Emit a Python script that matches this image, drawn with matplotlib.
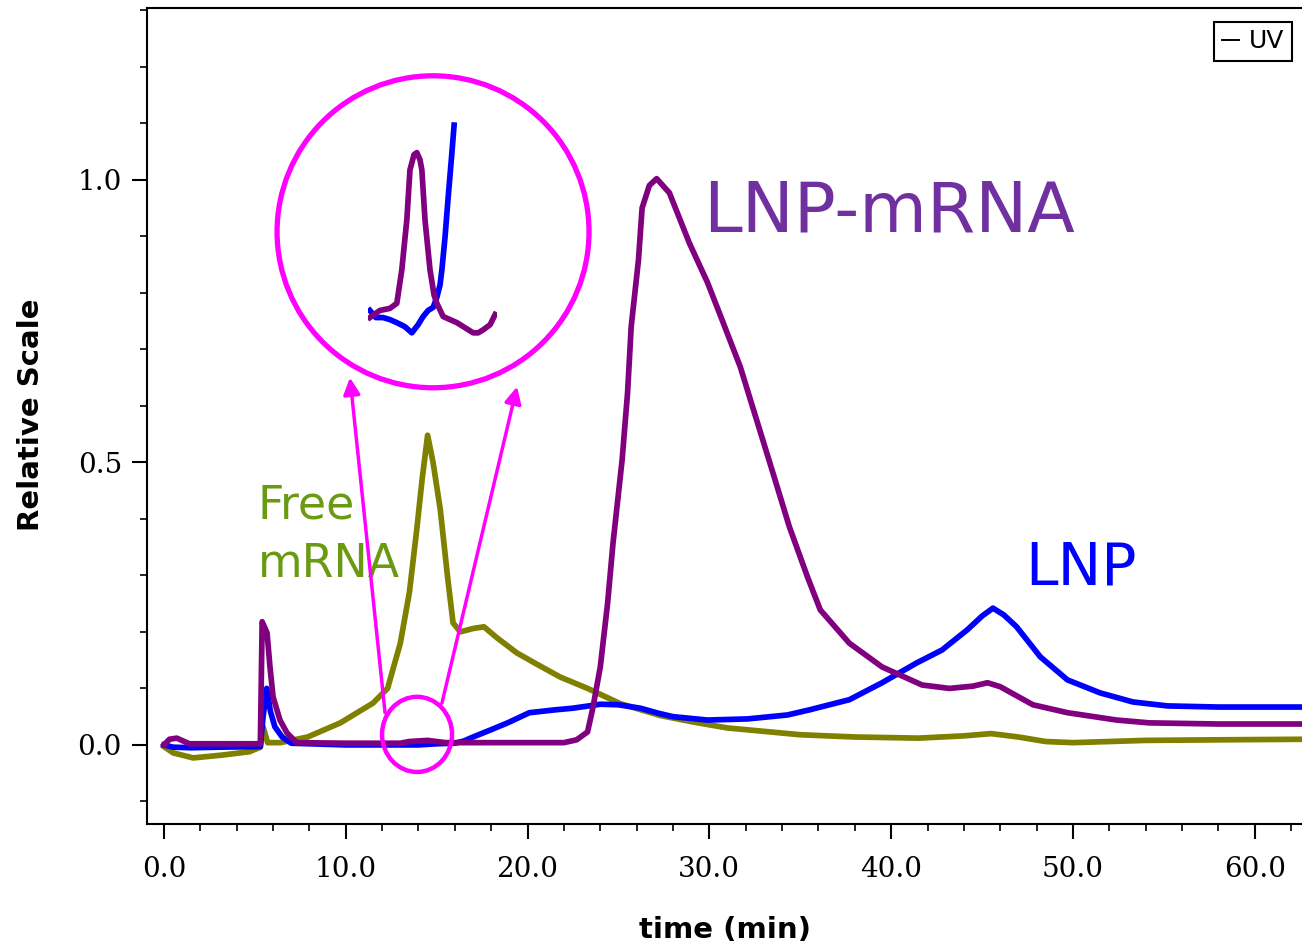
import matplotlib
matplotlib.use("Agg")
import matplotlib.pyplot as plt
from matplotlib.patches import Ellipse
from matplotlib.lines import Line2D
from matplotlib.ticker import MultipleLocator, FormatStrFormatter

# Free mRNA trace (olive)
free_t = [0.0, 0.5, 1.6, 3.2, 4.7, 5.3, 5.45, 5.7, 6.4, 7.9, 9.7, 11.5, 12.3,
          13.0, 13.5, 13.9, 14.2, 14.5, 14.8, 15.2, 15.6, 15.9, 16.3, 17.0,
          17.6, 18.3, 19.4, 20.5, 21.8, 23.3, 25.1, 27.3, 29.2, 31.0, 33.0,
          35.0, 38.0, 41.5, 44.0, 45.5, 47.0, 48.5, 50.0, 54.0, 58.0, 62.7]
free_y = [-0.003, -0.014, -0.023, -0.018, -0.012, -0.004, 0.032, 0.004, 0.004,
          0.014, 0.039, 0.074, 0.10, 0.18, 0.27, 0.38, 0.47, 0.548, 0.50,
          0.416, 0.297, 0.216, 0.20, 0.206, 0.209, 0.19, 0.163, 0.143, 0.12,
          0.10, 0.073, 0.052, 0.04, 0.03, 0.024, 0.018, 0.014, 0.012, 0.016,
          0.02, 0.014, 0.006, 0.004, 0.008, 0.009, 0.01]

# LNP trace (blue)
lnp_t = [0.0, 0.5, 1.5, 3.0, 5.3, 5.45, 5.65, 5.85, 6.1, 6.5, 7.0, 10.0, 14.0,
         15.0, 16.0, 16.5, 17.0, 18.0, 18.9, 20.1, 21.5, 22.5, 24.0, 25.0,
         26.2, 27.2, 28.0, 29.9, 32.1, 34.3, 35.5, 37.7, 39.5, 41.4, 42.8,
         44.2, 45.0, 45.6, 46.2, 46.9, 48.2, 49.7, 51.5, 53.3, 55.2, 58.0, 62.7]
lnp_y = [0.0, -0.004, -0.005, -0.004, -0.003, 0.05, 0.10, 0.06, 0.032, 0.014,
         0.003, 0.0, 0.0, 0.002, 0.003, 0.007, 0.014, 0.027, 0.039, 0.057,
         0.062, 0.065, 0.072, 0.071, 0.065, 0.056, 0.05, 0.044, 0.046, 0.053,
         0.062, 0.08, 0.11, 0.145, 0.168, 0.204, 0.228, 0.242, 0.23, 0.209,
         0.156, 0.115, 0.092, 0.076, 0.069, 0.067, 0.067]

# LNP-mRNA trace (purple)
lnpm_t = [0.0, 0.3, 0.7, 1.4, 2.5, 5.3, 5.4, 5.67, 5.83, 6.0, 6.38, 6.77, 7.3,
          10.0, 13.0, 13.5, 14.5, 15.5, 22.0, 22.7, 23.3, 23.6, 24.0, 24.4,
          24.7, 25.2, 25.5, 25.7, 26.1, 26.3, 26.7, 27.1, 27.8, 28.9, 29.9,
          30.7, 31.7, 32.6, 33.5, 34.4, 35.4, 36.1, 37.7, 39.5, 41.7, 43.2,
          44.5, 45.3, 46.0, 47.8, 49.7, 52.4, 54.2, 58.0, 62.7]
lnpm_y = [0.0, 0.01, 0.012, 0.002, 0.002, 0.002, 0.218, 0.198, 0.138, 0.085,
          0.044, 0.021, 0.004, 0.003, 0.003, 0.006, 0.008, 0.004, 0.004, 0.009,
          0.023, 0.067, 0.138, 0.25, 0.357, 0.504, 0.623, 0.74, 0.858, 0.95,
          0.99, 1.002, 0.977, 0.888, 0.818, 0.752, 0.669, 0.575, 0.481, 0.386,
          0.297, 0.239, 0.18, 0.138, 0.106, 0.10, 0.104, 0.11, 0.103, 0.071,
          0.057, 0.044, 0.039, 0.037, 0.037]

# zoomed view of the small peak near 14 min (arbitrary units)
zoom_t_lnpm = [12.0, 12.32, 12.64, 12.86, 13.02, 13.18, 13.28, 13.41, 13.5,
               13.6, 13.66, 13.76, 13.92, 14.05, 14.14, 14.34, 14.56, 14.78,
               15.04, 15.3, 15.46, 15.62, 15.84, 16.0]
zoom_y_lnpm = [2.4, 3.1, 3.3, 3.8, 7.1, 12.0, 16.9, 18.4, 18.6, 17.9, 16.9,
               12.0, 7.1, 4.6, 3.8, 2.5, 2.2, 1.9, 1.4, 0.9, 0.9, 1.2, 1.7, 2.7]
zoom_t_lnp = [12.0, 12.19, 12.42, 12.64, 12.86, 13.12, 13.34, 13.54, 13.7,
              13.86, 14.02, 14.14, 14.24, 14.3, 14.4, 14.5, 14.56, 14.62, 14.69]
zoom_y_lnp = [3.1, 2.4, 2.4, 2.2, 1.9, 1.5, 0.9, 1.7, 2.5, 3.1, 3.4, 4.4, 5.6,
              7.1, 10.3, 14.2, 16.4, 18.6, 21.3]

x_ticks = [0, 10, 20, 30, 40, 50, 60]
y_ticks = [0.0, 0.5, 1.0]

PURPLE = "#800080"
BLUE = "#0000FF"
OLIVE = "#808000"
MAGENTA = "#FF00FF"

fig = plt.figure(figsize=(13.02, 9.5), dpi=100)
ax = fig.add_axes([0.1129, 0.1326, 0.8871, 0.859])

lw = 4.1
ax.plot(free_t, free_y, color=OLIVE, lw=lw, zorder=3)
ax.plot(lnp_t, lnp_y, color=BLUE, lw=lw, zorder=3)
ax.plot(lnpm_t, lnpm_y, color=PURPLE, lw=lw, zorder=4)

ax.set_xlim(-0.935, 62.6)
ax.set_ylim(-0.14, 1.304)
ax.set_xticks(x_ticks)
ax.set_yticks(y_ticks)
ax.xaxis.set_minor_locator(MultipleLocator(2))
ax.yaxis.set_minor_locator(MultipleLocator(0.1))
ax.xaxis.set_major_formatter(FormatStrFormatter("%.1f"))
ax.yaxis.set_major_formatter(FormatStrFormatter("%.1f"))
ax.tick_params(which="major", direction="out", length=11, width=1.5,
               labelsize=20)
ax.tick_params(which="minor", direction="out", length=5, width=1.2)
ax.tick_params(axis="x", which="major", pad=12)
ax.tick_params(axis="y", which="major", pad=7)
for lab in ax.get_xticklabels() + ax.get_yticklabels():
    lab.set_family("DejaVu Serif")
for side in ("left", "bottom", "top"):
    ax.spines[side].set_linewidth(1.5)
ax.spines["right"].set_visible(False)

ax.set_xlabel("time (min)", fontsize=21, fontweight="bold")
ax.set_ylabel("Relative Scale", fontsize=21, fontweight="bold")
ax.xaxis.set_label_coords(0.5004, -0.113)
ax.yaxis.set_label_coords(-0.088, 0.501)

leg = ax.legend([Line2D([], [], color="black", lw=1.4)], ["UV"],
                loc="upper right", bbox_to_anchor=(1292 / 1302, 1 - 22 / 950),
                bbox_transform=fig.transFigure, fontsize=18, handlelength=0.7,
                handletextpad=0.4, borderpad=0.3, fancybox=False,
                framealpha=1, borderaxespad=0)
leg.get_frame().set_edgecolor("black")
leg.get_frame().set_linewidth(1.5)
leg._legend_box.sep = 0
for t in leg.get_texts():
    t.set_x(0)

# labels
ax.text(29.65, 0.908, "LNP-mRNA", color="#7030A0", fontsize=50,
        ha="left", va="baseline")
ax.text(47.4, 0.283, "LNP", color=BLUE, fontsize=42, ha="left", va="baseline")
ax.text(5.17, 0.40, "Free", color="#6A9A12", fontsize=33, ha="left",
        va="baseline")
ax.text(5.17, 0.297, "mRNA", color="#6A9A12", fontsize=33, ha="left",
        va="baseline")

# magnifier circles and arrows
ax.add_patch(Ellipse((13.92, 0.0186), 3.85, 0.133, fill=False,
                     edgecolor=MAGENTA, lw=3.2, zorder=6))
ax.add_patch(Ellipse((14.8, 0.908), 17.16, 0.552, fill=False,
                     edgecolor=MAGENTA, lw=3.8, zorder=6))
ax.annotate("", xy=(10.23, 0.65), xytext=(12.16, 0.057),
            arrowprops=dict(arrowstyle="-|>", color=MAGENTA, lw=2.5,
                            mutation_scale=25, shrinkA=0, shrinkB=0),
            zorder=6)
ax.annotate("", xy=(19.42, 0.634), xytext=(15.29, 0.074),
            arrowprops=dict(arrowstyle="-|>", color=MAGENTA, lw=2.5,
                            mutation_scale=25, shrinkA=0, shrinkB=0),
            zorder=6)

# zoomed inset
axin = fig.add_axes([368 / 1302, (950 - 342) / 950, 129 / 1302, 224 / 950])
axin.plot(zoom_t_lnp, zoom_y_lnp, color=BLUE, lw=lw)
axin.plot(zoom_t_lnpm, zoom_y_lnpm, color=PURPLE, lw=lw)
axin.set_xlim(11.94, 16.06)
axin.set_ylim(0, 22)
axin.axis("off")

fig.savefig("out.png", dpi=100)
